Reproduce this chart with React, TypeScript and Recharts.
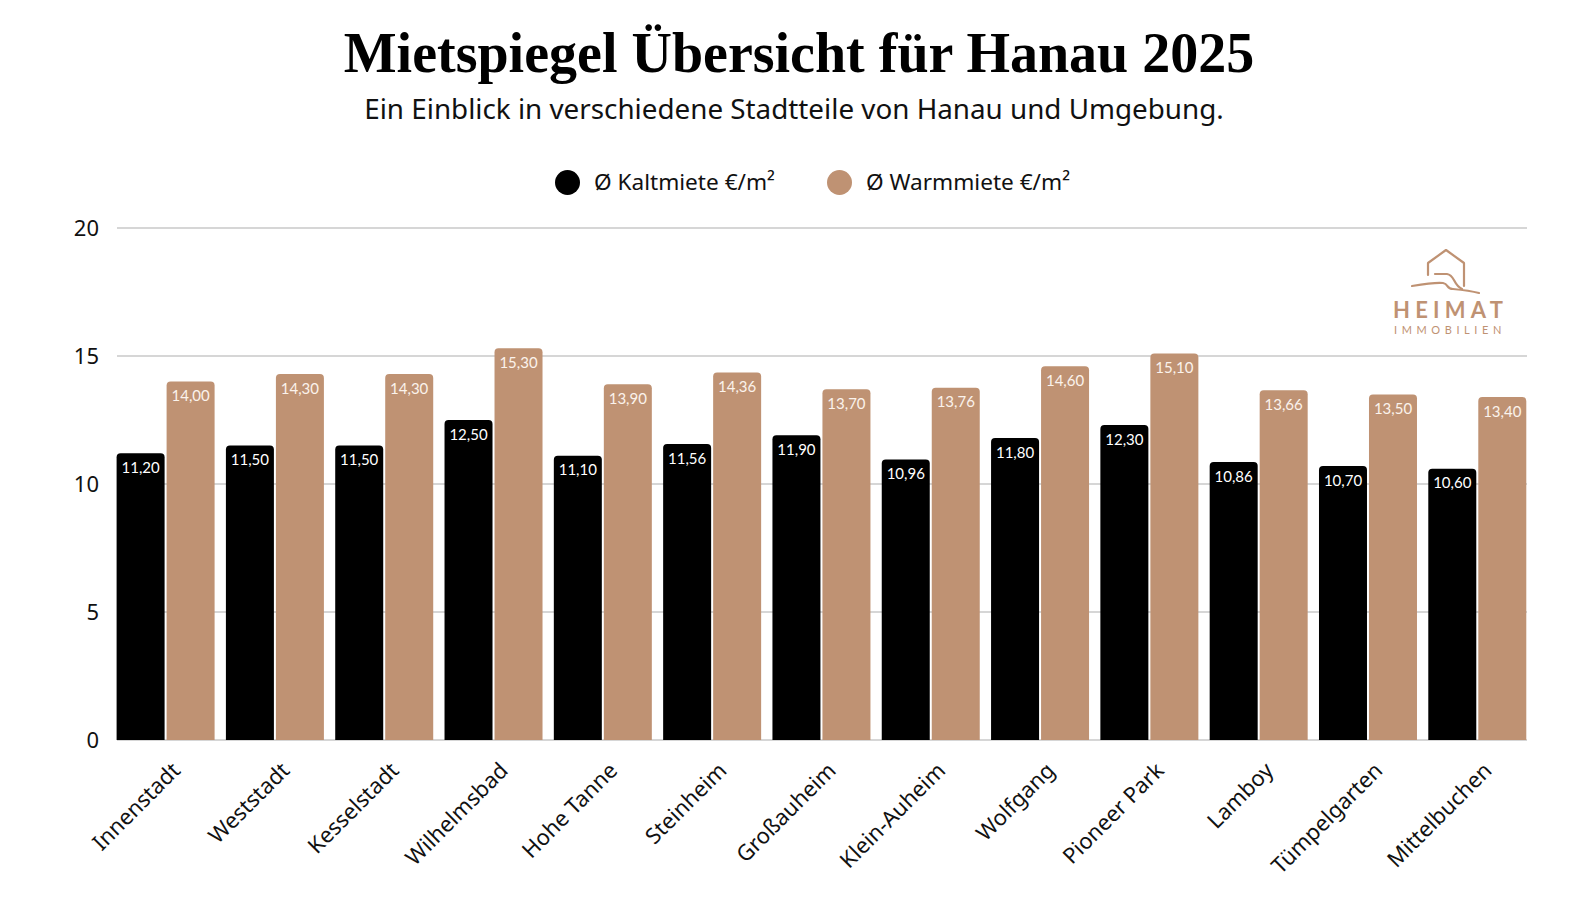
import { BarChart, Bar, XAxis, YAxis, CartesianGrid, LabelList } from 'recharts'

const districts = [
  'Innenstadt', 'Weststadt', 'Kesselstadt', 'Wilhelmsbad', 'Hohe Tanne', 'Steinheim', 'Großauheim',
  'Klein-Auheim', 'Wolfgang', 'Pioneer Park', 'Lamboy', 'Tümpelgarten', 'Mittelbuchen',
]
const kaltmiete = [11.2, 11.5, 11.5, 12.5, 11.1, 11.56, 11.9, 10.96, 11.8, 12.3, 10.86, 10.7, 10.6]
const warmmiete = [14.0, 14.3, 14.3, 15.3, 13.9, 14.36, 13.7, 13.76, 14.6, 15.1, 13.66, 13.5, 13.4]
const yTicks = [0, 5, 10, 15, 20]

const TAN = '#bf9273'
const FONT = '"Noto Sans", Lato, sans-serif'

const data = districts.map((name, i) => ({ name, kalt: kaltmiete[i], warm: warmmiete[i] }))

const fmt = (v: any) => Number(v).toFixed(2).replace('.', ',')

function XTick(props: any) {
  const { x, y, payload } = props
  const ax = x + 5
  const ay = y + 13
  return (
    <text
      x={ax}
      y={ay}
      transform={`rotate(-45, ${ax}, ${ay})`}
      textAnchor="end"
      dy="0.7em"
      fill="#111"
      fontSize={22}
      fontFamily={FONT}
    >
      {payload.value}
    </text>
  )
}

function Logo() {
  return (
    <svg width={1595} height={907} style={{ position: 'absolute', left: 0, top: 0, pointerEvents: 'none' }}>
      <g fill="none" stroke={TAN} strokeWidth={2.2} strokeLinecap="round" strokeLinejoin="round">
        <polyline points="1428,275 1428,263 1446,250 1464,263 1464,286" />
        <path d="M1435,274 L1447,274 C1455,275 1453,285 1462,289" />
        <path d="M1412,286 C1424,284 1436,282 1443,283 C1449,284 1446,289 1453,289 C1463,290 1471,291 1479,293" />
      </g>
      <text x={1393} y={318} fill={TAN} fontFamily="Lato, sans-serif" fontWeight={700}
        fontSize={22} letterSpacing={5.2}>HEIMAT</text>
      <text x={1394} y={334} fill={TAN} fontFamily="Lato, sans-serif"
        fontSize={11} letterSpacing={4.6}>IMMOBILIEN</text>
    </svg>
  )
}

export default function App() {
  return (
    <div style={{ position: 'absolute', left: 0, top: 0, width: 1595, height: 907, background: '#fff' }}>
      <div style={{
        position: 'absolute', top: 21, left: 0, width: 1598, textAlign: 'center',
        fontFamily: '"Liberation Serif", "DejaVu Serif", serif', fontWeight: 700, fontSize: 56, color: '#000',
      }}>
        Mietspiegel Übersicht für Hanau 2025
      </div>
      <div style={{
        position: 'absolute', top: 89, left: 0, width: 1588, textAlign: 'center',
        fontFamily: FONT, fontSize: 27.8, color: '#111',
      }}>
        Ein Einblick in verschiedene Stadtteile von Hanau und Umgebung.
      </div>
      <div style={{
        position: 'absolute', top: 168, left: 555, display: 'flex', alignItems: 'center',
        fontFamily: FONT, fontSize: 22.6, color: '#111', lineHeight: '28px',
      }}>
        <span style={{ width: 25, height: 25, borderRadius: '50%', background: '#000', marginRight: 14 }} />
        <span>Ø Kaltmiete €/m²</span>
      </div>
      <div style={{
        position: 'absolute', top: 168, left: 827, display: 'flex', alignItems: 'center',
        fontFamily: FONT, fontSize: 22.6, color: '#111', lineHeight: '28px',
      }}>
        <span style={{ width: 25, height: 25, borderRadius: '50%', background: TAN, marginRight: 14 }} />
        <span>Ø Warmmiete €/m²</span>
      </div>
      <BarChart
        width={1595}
        height={907}
        data={data}
        margin={{ top: 228, right: 63, bottom: 0, left: 51 }}
        barCategoryGap={5.6}
        barGap={2}
      >
        <CartesianGrid horizontal vertical={false} stroke="#c8c8c8" strokeWidth={1.5} x={117} width={1410} />
        <XAxis dataKey="name" axisLine={false} tickLine={false} interval={0} tick={<XTick />} height={167} />
        <YAxis
          width={60}
          domain={[0, 20]}
          ticks={yTicks}
          axisLine={false}
          tickLine={false}
          tickSize={0}
          tickMargin={12}
          tick={{ fill: '#111', fontSize: 22, fontFamily: FONT }}
        />
        <Bar dataKey="kalt" fill="#000" radius={[4, 4, 0, 0]} isAnimationActive={false}>
          <LabelList dataKey="kalt" position="insideTop" offset={9} formatter={fmt}
            fill="#fff" fontSize={15} fontFamily="Lato, sans-serif" />
        </Bar>
        <Bar dataKey="warm" fill={TAN} radius={[4, 4, 0, 0]} isAnimationActive={false}>
          <LabelList dataKey="warm" position="insideTop" offset={9} formatter={fmt}
            fill="#fbf3ec" fontSize={15} fontFamily="Lato, sans-serif" />
        </Bar>
      </BarChart>
      <Logo />
    </div>
  )
}
